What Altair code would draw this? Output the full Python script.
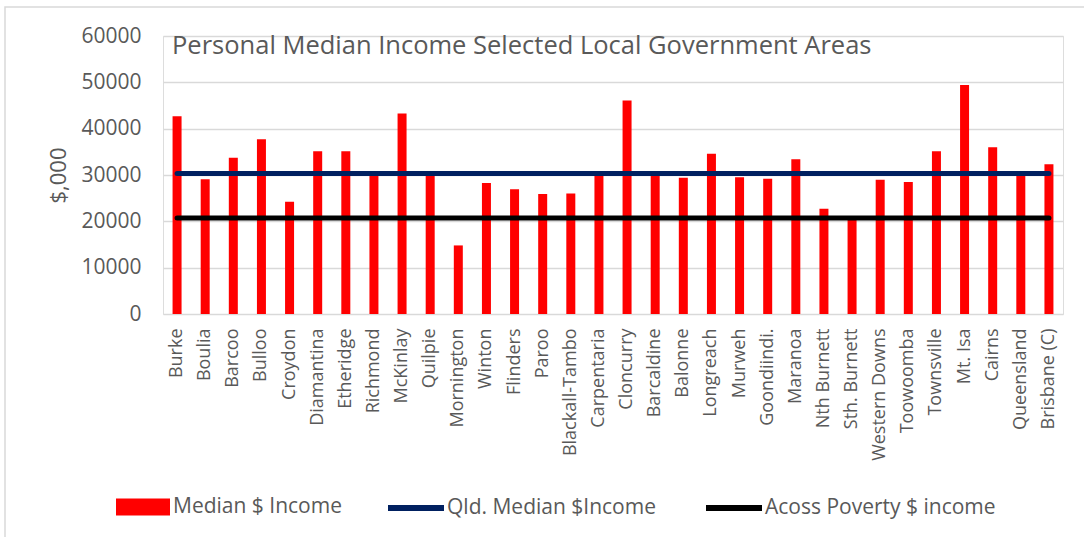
import altair as alt
import pandas as pd

areas = ["Burke", "Boulia", "Barcoo", "Bulloo", "Croydon", "Diamantina", "Etheridge",
         "Richmond", "McKinlay", "Quilpie", "Mornington", "Winton", "Flinders", "Paroo",
         "Blackall-Tambo", "Carpentaria", "Cloncurry", "Barcaldine", "Balonne", "Longreach",
         "Murweh", "Goondiindi.", "Maranoa", "Nth Burnett", "Sth. Burnett", "Western Downs",
         "Toowoomba", "Townsville", "Mt. Isa", "Cairns", "Queensland", "Brisbane (C)"]
median_income = [42700, 29100, 33700, 37700, 24200, 35100, 35100,
                 30000, 43300, 30000, 14800, 28300, 26900, 25900,
                 26000, 30000, 46100, 30000, 29400, 34600,
                 29500, 29200, 33400, 22700, 20500, 29000,
                 28500, 35100, 49400, 36000, 30300, 32300]
qld_median = 30300
acoss_poverty = 20700

series_names = ["Median $ Income", "Qld. Median $Income", "Acoss Poverty $ income"]
series_colors = ["#FF0000", "#002060", "#000000"]
title_text = "Personal Median Income Selected Local Government Areas"
y_title = "$,000"
y_ticks = [0, 10000, 20000, 30000, 40000, 50000, 60000]

FONT = "Open Sans"
GREY = "#595959"

df_bar = pd.DataFrame({"area": areas, "value": median_income, "series": series_names[0]})
df_qld = pd.DataFrame({"area": areas, "value": [qld_median] * len(areas), "series": series_names[1]})
df_acoss = pd.DataFrame({"area": areas, "value": [acoss_poverty] * len(areas), "series": series_names[2]})

x_enc = alt.X("area:N", sort=areas,
              scale=alt.Scale(paddingInner=0.68, paddingOuter=0.34),
              axis=alt.Axis(title=None, labelAngle=-90, labelFontSize=18, labelColor=GREY,
                            labelFont=FONT, ticks=False, domain=False, grid=False,
                            labelPadding=14, labelOverlap=False))
y_enc = alt.Y("value:Q", scale=alt.Scale(domain=[0, 60000], nice=False),
              axis=alt.Axis(title=y_title, values=y_ticks, format="d", grid=True,
                            gridColor="#d9d9d9", gridWidth=1.5, domain=False, ticks=False,
                            labelFontSize=21, labelColor=GREY, labelFont=FONT, labelPadding=22,
                            titleFontSize=22, titleFont=FONT, titleColor=GREY,
                            titleFontWeight="normal", titleX=-105, titleY=139,
                            titleAngle=270, titleAlign="center", titleBaseline="middle"))


def leg(x, y, symbol, size):
    return alt.Legend(title=None, orient="none", legendX=x, legendY=y, direction="horizontal",
                      labelFontSize=21, labelColor=GREY, labelFont=FONT, labelOffset=0,
                      labelLimit=400,
                      symbolType=symbol, symbolSize=size, symbolStrokeWidth=6, padding=0,
                      symbolOpacity=1)


bars = alt.Chart(df_bar).mark_bar(color="#FF0000").encode(
    x=x_enc, y=y_enc,
    color=alt.Color("series:N", scale=alt.Scale(domain=[series_names[0]], range=[series_colors[0]]),
                    legend=leg(-50, 441, "M-1,-0.315H1V0.315H-1Z", 2916)),
)

line_qld = alt.Chart(df_qld).mark_line(strokeWidth=5, strokeCap="round").encode(
    x=alt.X("area:N", sort=areas), y=alt.Y("value:Q"),
    color=alt.Color("series:N", scale=alt.Scale(domain=[series_names[1]], range=[series_colors[1]]),
                    legend=leg(222, 441, "stroke", 3136)),
)

line_acoss = alt.Chart(df_acoss).mark_line(strokeWidth=5, strokeCap="round").encode(
    x=alt.X("area:N", sort=areas), y=alt.Y("value:Q"),
    color=alt.Color("series:N", scale=alt.Scale(domain=[series_names[2]], range=[series_colors[2]]),
                    legend=leg(540, 441, "stroke", 3136)),
)

title_layer = alt.Chart(pd.DataFrame({"t": [title_text]})).mark_text(
    align="left", baseline="alphabetic", fontSize=25.5, font=FONT, color=GREY
).encode(text="t:N", x=alt.value(9), y=alt.value(18))

border = alt.Chart(pd.DataFrame({"b": [1]})).mark_rect(
    fillOpacity=0, stroke="#d9d9d9", strokeWidth=1.5
).encode(x=alt.value(-158), x2=alt.value(930), y=alt.value(-29), y2=alt.value(520))

chart = alt.layer(border, bars, line_qld, line_acoss, title_layer).resolve_scale(
    color="independent"
).properties(
    width=900, height=278,
    autosize=alt.AutoSizeParams(type="none"),
    padding={"left": 163, "top": 36, "right": 21, "bottom": 223},
).configure_view(strokeWidth=0).configure(background="white")

chart.save("out.html", embed_options={"renderer": "svg", "actions": False})
